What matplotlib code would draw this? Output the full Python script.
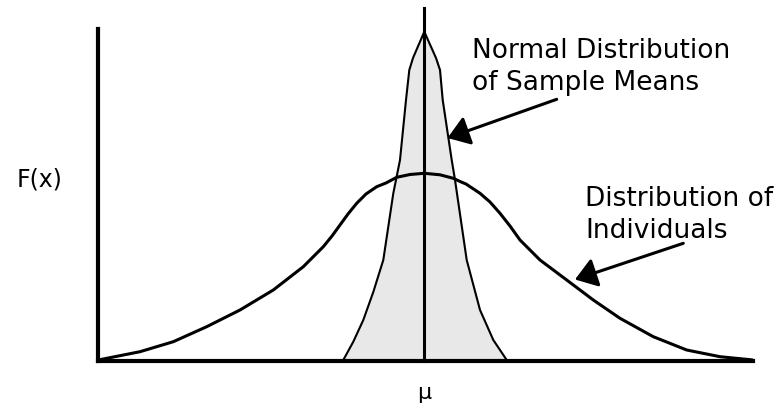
import matplotlib.pyplot as plt

# x in units of 100 px from mu, y in units of 100 px above the axis
wide_x = [-3.26, -2.843, -2.51, -2.176, -1.843, -1.51, -1.21, -1.113, -1.01, -0.923,
          -0.843, -0.763, -0.676, -0.583, -0.476, -0.383, -0.276, -0.143, 0.0, 0.157,
          0.29, 0.357, 0.417, 0.557, 0.657, 0.757, 0.857, 0.957, 1.057, 1.157,
          1.424, 1.69, 1.957, 2.29, 2.624, 2.957, 3.29]
wide_y = [0.01, 0.093, 0.193, 0.343, 0.51, 0.71, 0.943, 1.04, 1.143, 1.25,
          1.36, 1.47, 1.577, 1.67, 1.743, 1.78, 1.837, 1.865, 1.877, 1.862,
          1.827, 1.795, 1.77, 1.677, 1.59, 1.477, 1.35, 1.21, 1.11, 1.01,
          0.81, 0.61, 0.427, 0.243, 0.11, 0.043, 0.01]

narrow_x = [-0.81, -0.71, -0.61, -0.51, -0.41, -0.31, -0.243, -0.183, -0.15, -0.113,
            0.0, 0.117, 0.157, 0.184, 0.274, 0.307, 0.424, 0.557, 0.69, 0.824]
narrow_y = [0.01, 0.193, 0.41, 0.69, 1.01, 1.677, 2.01, 2.61, 2.91, 3.03,
            3.293, 3.03, 2.91, 2.61, 2.01, 1.81, 1.01, 0.51, 0.21, 0.01]

mu = 0.0
mu_line_top = 3.53
xlim = (-3.266, 3.29)
ylim = (0.0, 3.32)

means_label = "Normal Distribution\nof Sample Means"
indiv_label = "Distribution of\nIndividuals"

plt.rcParams["font.family"] = ["DejaVu Sans"]

fig = plt.figure(figsize=(7.82, 4.08), dpi=100)
W, H = 782, 408
ax = fig.add_axes([97.7 / W, (H - 361) / H, 655.6 / W, 332 / H])
ax.set_xlim(*xlim)
ax.set_ylim(*ylim)

ax.fill_between(narrow_x, narrow_y, 0, color="#e8e8e8", zorder=1)
ax.plot(narrow_x, narrow_y, color="black", lw=1.5, zorder=2)
ax.plot(wide_x, wide_y, color="black", lw=2.2, zorder=3,
        solid_capstyle="round", solid_joinstyle="round")
ax.plot([mu, mu], [0, mu_line_top], color="black", lw=2.2, zorder=4, clip_on=False)

for side in ["top", "right"]:
    ax.spines[side].set_visible(False)
for side in ["left", "bottom"]:
    ax.spines[side].set_linewidth(3)
ax.set_yticks([])
ax.set_xticks([mu])
ax.set_xticklabels(["\u03bc"], fontsize=16)
ax.tick_params(axis="x", length=0, pad=16)

ax.text(-4.073, 1.74, "F(x)", fontsize=17, ha="left", va="baseline")

arrow = dict(arrowstyle="-|>,head_length=0.65,head_width=0.45", color="black",
             lw=2.2, mutation_scale=20, shrinkA=0, shrinkB=0)
ax.annotate("", xy=(0.232, 2.23), xytext=(1.324, 2.617), arrowprops=arrow, zorder=5)
ax.annotate("", xy=(1.507, 0.815), xytext=(2.59, 1.177), arrowprops=arrow, zorder=5)

ax.text(0.48, 3.225, means_label, fontsize=19, ha="left", va="top", linespacing=1.3)
ax.text(1.607, 1.75, indiv_label, fontsize=19, ha="left", va="top", linespacing=1.3)

plt.savefig("out.png", dpi=100)
